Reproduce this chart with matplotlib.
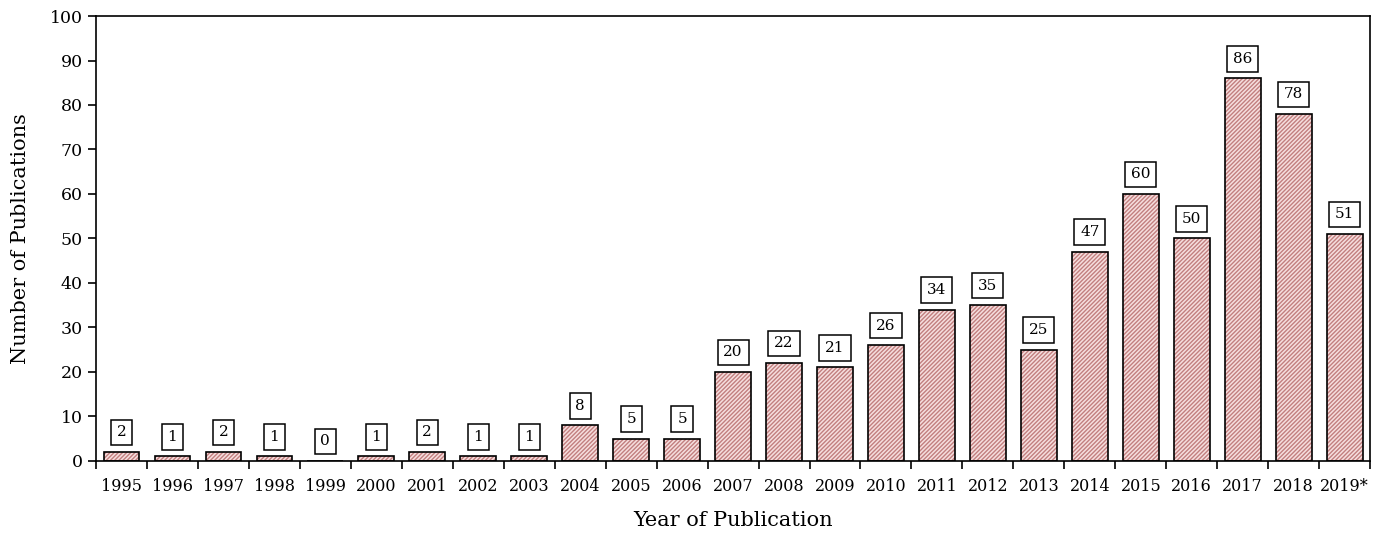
import matplotlib
matplotlib.use("Agg")
import matplotlib.pyplot as plt
import numpy as np

years = ["1995", "1996", "1997", "1998", "1999", "2000", "2001", "2002", "2003", "2004",
         "2005", "2006", "2007", "2008", "2009", "2010", "2011", "2012", "2013", "2014",
         "2015", "2016", "2017", "2018", "2019*"]
counts = [2, 1, 2, 1, 0, 1, 2, 1, 1, 8, 5, 5, 20, 22, 21, 26, 34, 35, 25, 47, 60, 50, 86, 78, 51]
yticks = list(range(0, 101, 10))

plt.rcParams['font.family'] = ['DejaVu Serif']
fig = plt.figure(figsize=(13.79, 5.34), dpi=100)
ax = fig.add_axes([0.0696, 0.137, 0.924, 0.833])

x = np.arange(len(years))
ax.bar(x, counts, width=0.7, color='#f6dede', edgecolor='#c27f7f', hatch='////////', linewidth=0)
ax.bar(x, counts, width=0.7, fill=False, edgecolor='black', linewidth=1.2)

for xi, c in zip(x, counts):
    ax.annotate(str(c), (xi, c), xytext=(0, 9), textcoords='offset points',
                ha='center', va='bottom', fontsize=11,
                bbox=dict(boxstyle='square,pad=0.38', fc='white', ec='black', lw=1.1))

ax.set_xlim(-0.5, len(years) - 0.5)
ax.set_ylim(0, 100)
ax.set_yticks(yticks)
ax.set_xticks(x)
ax.set_xticklabels(years, fontsize=11.5)
ax.set_xticks(np.arange(-0.5, len(years), 1.0), minor=True)
ax.tick_params(axis='x', which='major', length=0, pad=12)
ax.tick_params(axis='x', which='minor', length=6, width=1.2, direction='out')
ax.tick_params(axis='y', labelsize=12.5, length=6, width=1.2, direction='out')
for s in ax.spines.values():
    s.set_linewidth(1.2)

ax.set_xlabel("Year of Publication", fontsize=15, labelpad=12)
ax.set_ylabel("Number of Publications", fontsize=15, labelpad=14)

fig.savefig("out.png", dpi=100)
